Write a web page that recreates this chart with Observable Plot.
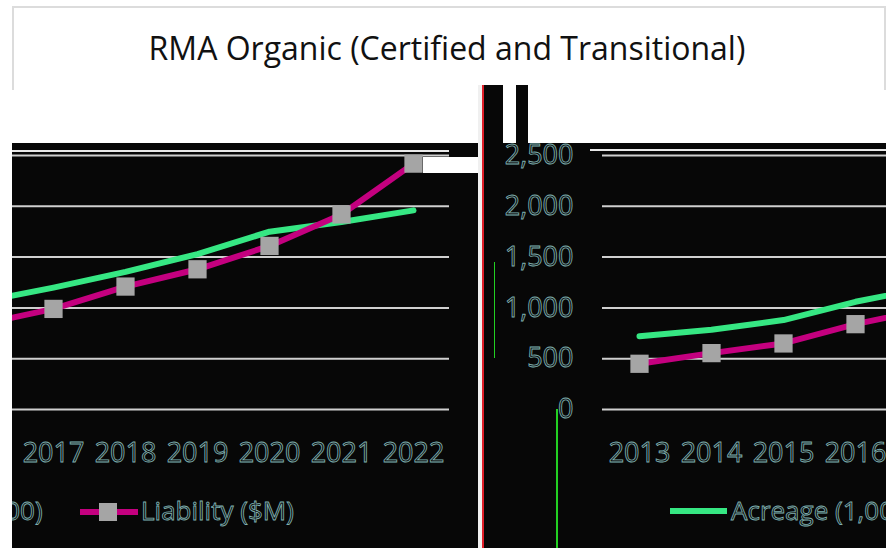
<!DOCTYPE html>
<html>
<head>
<meta charset="utf-8">
<script src="https://cdn.jsdelivr.net/npm/d3@7"></script>
<script src="https://cdn.jsdelivr.net/npm/@observablehq/plot@0.6"></script>
<style>
  html, body { margin: 0; padding: 0; background: #fff; }
  #stage { position: relative; width: 886px; height: 548px; overflow: hidden; background: #fff; font-family: "Open Sans", sans-serif; }
  #frame { position: absolute; left: 12px; top: 6px; width: 870px; height: 82px; border: 2px solid #dcdcdc; border-bottom: none; }
  #title { position: absolute; left: 0; top: 26px; width: 894px; text-align: center; font-size: 32px; color: #111; line-height: 44px; }
  .clip { position: absolute; top: 143px; height: 405px; overflow: hidden; background: #070707; }
  .clip svg { position: absolute; top: 0; max-width: none !important; width: 1340px !important; height: 405px !important; }
  .clip svg text { fill: #0d0d0d; stroke: #7fb0b0; stroke-width: 0.85px; }
  .deco { position: absolute; }
</style>
</head>
<body>
<div id="stage">
  <div id="frame"></div>
  <div id="title">RMA Organic (Certified and Transitional)</div>
  <div class="clip" id="left" style="left:12px;width:437px;"></div>
  <div class="clip" id="right" style="left:449px;width:437px;"></div>
</div>
<script>
const years = ["2013","2014","2015","2016","2017","2018","2019","2020","2021","2022"];
const acreage = [720, 785, 880, 1060, 1200, 1355, 1530, 1750, 1845, 1960];
const liability = [450, 555, 650, 840, 990, 1210, 1380, 1610, 1920, 2420];
const yTicks = [0, 500, 1000, 1500, 2000, 2500];
const seriesNames = ["Acreage (1,000)", "Liability ($M)"];

const data = years.map((year, i) => ({year, acreage: acreage[i], liability: liability[i]}));

const green = "#36e783";
const magenta = "#c4007f";
const marker = "#a5a5a5";

function makeChart() {
  const svg = Plot.plot({
    width: 1340,
    height: 405,
    marginLeft: 602,
    marginRight: 17,
    marginTop: 12,
    marginBottom: 139,
    style: {background: "#070707", fontFamily: "Open Sans", fontSize: "27px", overflow: "visible", maxWidth: "none"},
    x: {type: "point", domain: years, padding: 0.5},
    y: {domain: [0, 2500]},
    marks: [
      Plot.gridY(yTicks, {stroke: "#cfcfcf", strokeOpacity: 1, strokeWidth: 2}),
      Plot.axisY(yTicks, {tickSize: 0, tickPadding: 29, tickFormat: d3.format(","), label: null, fontSize: 27}),
      Plot.axisX({tickSize: 0, tickPadding: 33, label: null, fontSize: 27}),
      Plot.line(data, {x: "year", y: "acreage", stroke: green, strokeWidth: 6}),
      Plot.line(data, {x: "year", y: "liability", stroke: magenta, strokeWidth: 6}),
      Plot.dot(data, {x: "year", y: "liability", symbol: "square", r: 10.3, fill: marker, stroke: null})
    ]
  });
  const s = d3.select(svg);
  const g = s.append("g").attr("font-size", 26).attr("font-family", "Open Sans").attr("text-anchor", "start");
  // legend: Acreage
  g.append("line").attr("x1", 670).attr("x2", 727).attr("y1", 368).attr("y2", 368)
    .attr("stroke", green).attr("stroke-width", 6);
  g.append("text").attr("x", 731).attr("y", 377).attr("text-anchor", "start").text(seriesNames[0]);
  // legend: Liability
  g.append("line").attr("x1", 954).attr("x2", 1012).attr("y1", 369).attr("y2", 369)
    .attr("stroke", magenta).attr("stroke-width", 6);
  g.append("rect").attr("x", 973).attr("y", 360).attr("width", 18).attr("height", 18).attr("fill", marker);
  g.append("text").attr("x", 1015).attr("y", 377).attr("text-anchor", "start").text(seriesNames[1]);
  return svg;
}

function place(id, offset) {
  const host = document.getElementById(id);
  const svg = makeChart();
  svg.style.left = offset + "px";
  host.appendChild(svg);
  // drop texts lying wholly outside this window
  const hr = host.getBoundingClientRect();
  svg.querySelectorAll("text").forEach(t => {
    const r = t.getBoundingClientRect();
    if (r.right <= hr.left + 1 || r.left >= hr.right - 1 || r.bottom <= hr.top || r.top >= hr.bottom) t.remove();
  });
}
place("left", -886);
place("right", -449);

// glitch decorations
const stage = document.getElementById("stage");
function deco(l, t, w, h, c) {
  const d = document.createElement("div");
  d.className = "deco";
  Object.assign(d.style, {left: l + "px", top: t + "px", width: w + "px", height: h + "px", background: c});
  stage.appendChild(d);
}
deco(12, 150, 437, 2, "#e8e8e8");
deco(590, 149, 296, 2, "#e8e8e8");
deco(423, 157, 55, 16, "#ffffff");
deco(478, 85, 25, 58, "#070707");
deco(516, 85, 12, 58, "#070707");
deco(478, 85, 4, 463, "#f0f0f0");
deco(482, 85, 2, 463, "#e0202a");
deco(556, 409, 2, 139, "#22d022");
deco(494, 262, 1, 96, "#22d022");
</script>
</body>
</html>
